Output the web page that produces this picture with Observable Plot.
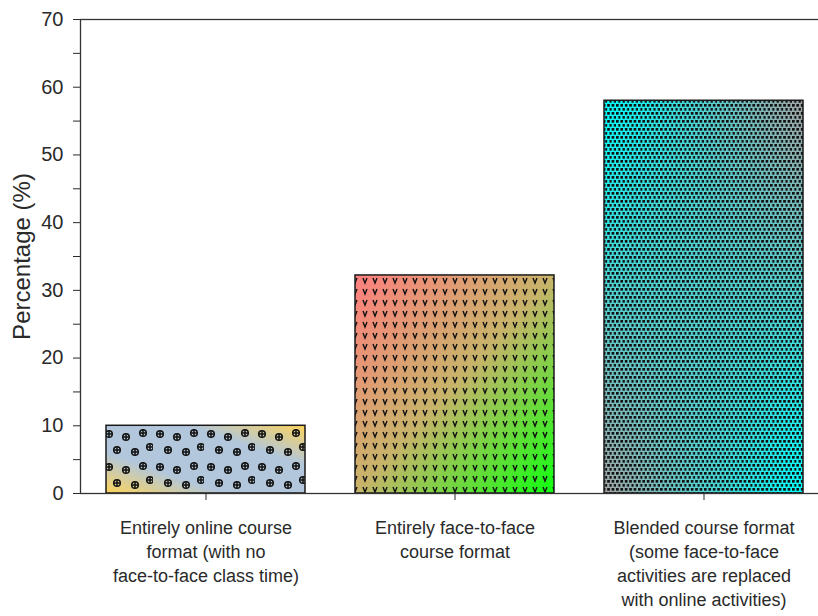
<!DOCTYPE html>
<html><head><meta charset="utf-8">
<script src="https://cdn.jsdelivr.net/npm/d3@7"></script>
<script src="https://cdn.jsdelivr.net/npm/@observablehq/plot@0.6"></script>
<style>html,body{margin:0;padding:0;background:#fff;overflow:hidden;width:818px;height:616px}</style>
</head><body><div id="chart"></div>
<script>
const categories = [
  "Entirely online course\nformat (with no\nface-to-face class time)",
  "Entirely face-to-face\ncourse format",
  "Blended course format\n(some face-to-face\nactivities are replaced\nwith online activities)"
];
const values = [10, 32.2, 58.0];
const yMajorTicks = [0, 10, 20, 30, 40, 50, 60, 70];
const yMinorTicks = [5, 15, 25, 35, 45, 55, 65];
const yTitle = ["Percentage (%)"];

const barMarks = categories.flatMap((c, i) => {
  const m = [Plot.barY([i], {x: j => categories[j], y: j => values[j], fill: `url(#grad${i})`})];
  if (i === 2) m.push(Plot.barY([i], {x: j => categories[j], y: j => values[j], fill: "url(#grad2b)", className: "masked"}));
  m.push(Plot.barY([i], {x: j => categories[j], y: j => values[j], fill: `url(#pat${i})`, stroke: "#1a1a1a", strokeWidth: 1.5}));
  return m;
});

const chart = Plot.plot({
  width: 840, height: 616,
  marginLeft: 80, marginRight: 11, marginTop: 19, marginBottom: 123,
  style: {fontFamily: "'Liberation Sans', Arial, sans-serif", color: "#2a2a2a", background: "#fff", overflow: "visible", maxWidth: "none"},
  x: {domain: categories, paddingInner: 0.2, paddingOuter: 0.104, label: null},
  y: {domain: [0, 70], label: null},
  marks: [
    ...barMarks,
    Plot.frame({stroke: "#333", strokeWidth: 1.3}),
    Plot.axisY({ticks: yMajorTicks, tickSize: 7, tickPadding: 10, fontSize: 20, label: null}),
    Plot.axisY({ticks: yMinorTicks, tickSize: 7, tickFormat: () => "", label: null}),
    Plot.axisX({tickSize: 7, tickPadding: 16, fontSize: 18, lineHeight: 1.333, label: null}),
    Plot.text(yTitle, {frameAnchor: "left", dx: -58, rotate: -90, textAnchor: "middle", lineAnchor: "middle", fontSize: 24, text: d => d})
  ]
});

d3.select(chart).insert("defs", ":first-child").html(`
  <linearGradient id="grad0" x1="0" y1="1" x2="1" y2="0">
    <stop offset="0" stop-color="#fcd35a"/>
    <stop offset="0.3" stop-color="#b2c7dc"/>
    <stop offset="0.7" stop-color="#b2c7dc"/>
    <stop offset="1" stop-color="#fcd35a"/>
  </linearGradient>
  <linearGradient id="grad1" x1="0" y1="0" x2="1" y2="1">
    <stop offset="0" stop-color="#ff7f7f"/>
    <stop offset="0.5" stop-color="#c8b46a"/>
    <stop offset="1" stop-color="#10ff10"/>
  </linearGradient>
  <linearGradient id="grad2" x1="0" y1="0" x2="1" y2="0">
    <stop offset="0" stop-color="#00ffff"/>
    <stop offset="1" stop-color="#a4a4a4"/>
  </linearGradient>
  <linearGradient id="grad2b" x1="0" y1="0" x2="1" y2="0">
    <stop offset="0" stop-color="#a4a4a4"/>
    <stop offset="1" stop-color="#00ffff"/>
  </linearGradient>
  <linearGradient id="vgrad" x1="0" y1="0" x2="0" y2="1">
    <stop offset="0" stop-color="#000"/>
    <stop offset="1" stop-color="#fff"/>
  </linearGradient>
  <mask id="vmask" maskUnits="objectBoundingBox" maskContentUnits="objectBoundingBox" x="0" y="0" width="1" height="1">
    <rect x="0" y="0" width="1" height="1" fill="url(#vgrad)"/>
  </mask>
  <g id="cx" fill="none" stroke="#111" stroke-width="1.5">
    <circle r="3.3"/><path d="M-3.3,0H3.3M0,-3.3V3.3"/>
  </g>
  <pattern id="pat0" patternUnits="userSpaceOnUse" width="51" height="33">
    <use href="#cx" x="7" y="5"/><use href="#cx" x="24" y="8"/><use href="#cx" x="41" y="4"/>
    <use href="#cx" x="15" y="21"/><use href="#cx" x="33" y="23"/><use href="#cx" x="48" y="18"/>
  </pattern>
  <pattern id="pat1" patternUnits="userSpaceOnUse" width="10" height="11">
    <path d="M3,3 L5,8 L7,3" fill="none" stroke="#111" stroke-width="1.4"/>
  </pattern>
  <pattern id="pat2" patternUnits="userSpaceOnUse" width="4.4" height="8">
    <rect x="0" y="0" width="2.7" height="2.7" fill="#111"/>
    <rect x="2.2" y="4" width="2.7" height="2.7" fill="#111"/>
  </pattern>
`);
d3.select(chart).selectAll(".masked rect").attr("mask", "url(#vmask)");

document.getElementById("chart").append(chart);
</script>
</body></html>
